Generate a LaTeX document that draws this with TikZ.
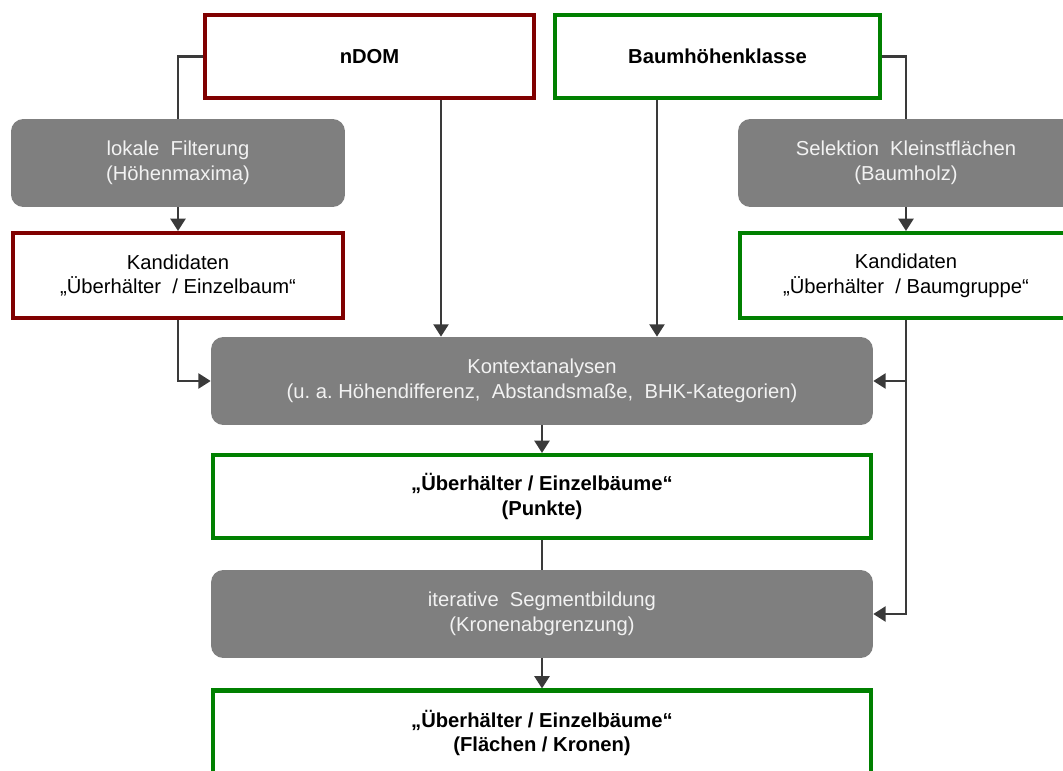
\documentclass[tikz,border=0pt]{standalone}
\usepackage{fontspec}
\setmainfont{Liberation Sans}
\usetikzlibrary{arrows.meta}
\definecolor{boxred}{HTML}{800000}
\definecolor{boxgreen}{HTML}{008000}
\definecolor{stepgray}{HTML}{7F7F7F}
\definecolor{steptext}{HTML}{F2F2F2}
\definecolor{linegray}{HTML}{3A3A3A}
\tikzset{
  databox/.style={draw, line width=2.3pt, fill=white, inner sep=0pt, align=center,
    text=black, font=\fontsize{11.5}{14}\selectfont},
  redbox/.style={databox, draw=boxred},
  greenbox/.style={databox, draw=boxgreen},
  stepbox/.style={fill=stepgray, rounded corners=7pt, inner sep=0pt, align=center,
    text=steptext, minimum height=1.76cm, font=\fontsize{11.5}{14}\selectfont},
  conn/.style={draw=linegray, line width=1.35pt},
  arr/.style={conn, -{Triangle[width=8.5pt,length=7pt]}}
}

\begin{document}
\begin{tikzpicture}[x=0.02cm, y=-0.02cm]
        \useasboundingbox (0,0) rectangle (1063,771);
        \clip (0,0) rectangle (1063,771);

        % inputs
        \node[redbox, minimum width=6.58cm, minimum height=1.66cm] (ndom) at (369.5,56.5) {\textbf{nDOM}};
        \node[greenbox, minimum width=6.5cm, minimum height=1.66cm] (bhk) at (717.5,56.5) {\textbf{Baumhöhenklasse}};

        % left branch
        \node[stepbox, minimum width=6.68cm] (filter) at (178,163) {lokale\ \ Filterung\\(Höhenmaxima)};
        \node[redbox, minimum width=6.6cm, minimum height=1.7cm] (candL) at (178,275.5) {Kandidaten\\„Überhälter\ \ /\ Einzelbaum“};

        % right branch
        \node[stepbox, minimum width=6.72cm] (select) at (906,163) {Selektion\ \ Kleinstflächen\\(Baumholz)};
        \node[greenbox, minimum width=6.64cm, minimum height=1.7cm] (candR) at (906,275.5) {Kandidaten\\„Überhälter\ \ /\ Baumgruppe“};

        % middle column
        \node[stepbox, minimum width=13.24cm] (kontext) at (542,381) {Kontextanalysen\\(u.\ a.\ Höhendifferenz,\ \ Abstandsmaße,\ \ BHK-Kategorien)};
        \node[greenbox, minimum width=13.16cm, minimum height=1.66cm] (punkte) at (542,496.5) {\textbf{„Überhälter / Einzelbäume“}\\\textbf{(Punkte)}};
        \node[stepbox, minimum width=13.24cm] (segment) at (542,614) {iterative\ \ Segmentbildung\\(Kronenabgrenzung)};
        \node[greenbox, minimum width=13.16cm, minimum height=1.7cm] (kronen) at (542,733) {\textbf{„Überhälter / Einzelbäume“}\\\textbf{(Flächen / Kronen)}};

        % connectors
        \draw[conn] (ndom.west) -| (filter.north);
        \draw[arr] (filter.south) -- (candL.north);
        \draw[arr] (candL.south) |- (kontext.west);
        \draw[arr] (ndom.south) ++(71.5,0) coordinate (n1) -- (n1 |- kontext.north);

        \draw[conn] (bhk.east) -| (select.north);
        \draw[arr] (select.south) -- (candR.north);
        \draw[arr] (bhk.south) ++(-60.5,0) coordinate (b1) -- (b1 |- kontext.north);
        \draw[arr] (candR.south) |- (segment.east);
        \draw[arr] (candR.south |- kontext.east) -- (kontext.east);

        \draw[arr] (kontext.south) -- (punkte.north);
        \draw[conn] (punkte.south) -- (segment.north);
        \draw[arr] (segment.south) -- (kronen.north);
    \end{tikzpicture}
\end{document}
